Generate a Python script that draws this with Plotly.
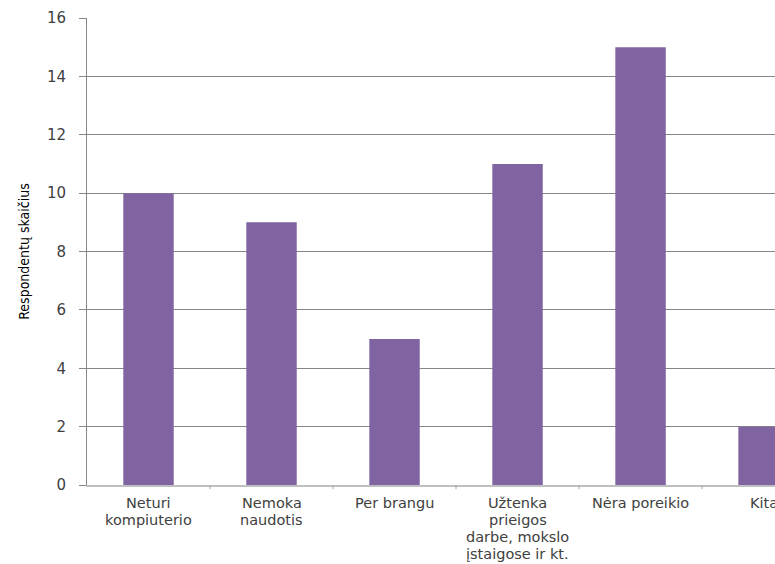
import plotly.graph_objects as go

# Reasons for not using the internet
categories = [
    "Neturi<br>kompiuterio",
    "Nemoka<br>naudotis",
    "Per brangu",
    "Užtenka<br>prieigos<br>darbe, mokslo<br>įstaigose ir kt.",
    "Nėra poreikio",
    "Kita",
]
respondents = [10, 9, 5, 11, 15, 2]
y_ticks = [0, 2, 4, 6, 8, 10, 12, 14, 16]

BAR_COLOR = "#8064A2"
GRID_COLOR = "#868686"
TEXT_COLOR = "#404040"
LABEL_FONT = dict(family="DejaVu Sans", size=14.5, color=TEXT_COLOR)
LINE_STEP = 17  # px between wrapped label lines

x_pos = list(range(len(categories)))

fig = go.Figure(
    go.Bar(
        x=x_pos,
        y=respondents,
        marker=dict(color=BAR_COLOR, line=dict(width=0)),
        width=0.41,
        hoverinfo="skip",
    )
)

fig.update_layout(
    width=775,
    height=564,
    margin=dict(l=87, r=0, t=18, b=79),
    paper_bgcolor="white",
    plot_bgcolor="white",
    showlegend=False,
)

fig.update_xaxes(
    range=[-0.5, 5.093],
    showticklabels=False,
    showgrid=False,
    zeroline=False,
    showline=True,
    linecolor="#bfbfbf",
    linewidth=1.5,
    ticks="",
    automargin=False,
)

# category labels, one text per wrapped line for tight line spacing
for xi, label in zip(x_pos, categories):
    for li, part in enumerate(label.split("<br>")):
        fig.add_annotation(
            x=xi, xref="x", y=0, yref="paper",
            text=part, showarrow=False,
            xanchor="center", yanchor="top",
            yshift=-10 - LINE_STEP * li,
            borderpad=0, borderwidth=0,
            font=LABEL_FONT,
        )

# boundary tick marks between categories
for b in [0.5, 1.5, 2.5, 3.5, 4.5]:
    fig.add_shape(
        type="line", xref="x", yref="paper",
        x0=b, x1=b, y0=0, y1=-0.009,
        line=dict(color="#a6a6a6", width=1),
    )

fig.update_yaxes(
    range=[0, 16],
    tickvals=y_ticks,
    showgrid=True,
    gridcolor=GRID_COLOR,
    gridwidth=1,
    zeroline=False,
    showline=True,
    linecolor=GRID_COLOR,
    linewidth=1,
    ticks="outside",
    ticklen=7,
    tickcolor=GRID_COLOR,
    tickfont=dict(family="DejaVu Sans", size=15, color=TEXT_COLOR),
    ticklabelstandoff=10,
    automargin=False,
    title=dict(
        text="Respondentų skaičius",
        font=dict(family="DejaVu Sans Condensed", size=14, color="black"),
        standoff=14,
    ),
)

fig.write_html("out.html")
